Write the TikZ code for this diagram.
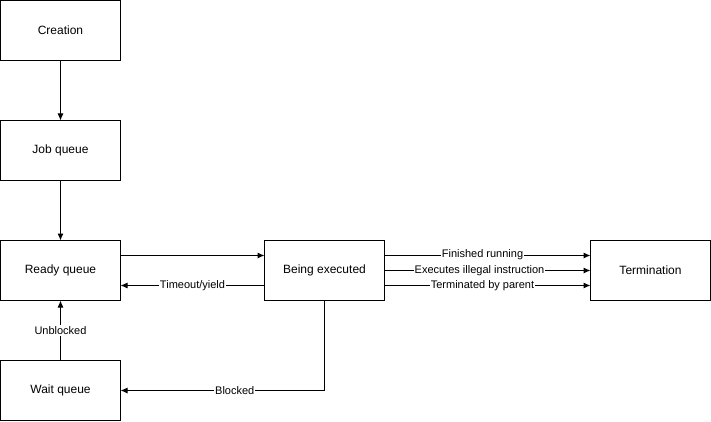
\documentclass[tikz,border=0pt]{standalone}
\usepackage{fontspec}
\setmainfont{Liberation Sans}
\usetikzlibrary{arrows.meta}
\usetikzlibrary{positioning}

\tikzset{
    state/.style={draw, line width=1pt, minimum width=120pt, minimum height=60pt,
        inner sep=0pt, outer sep=0pt, font=\fontsize{12}{14}\selectfont},
    trans/.style={-{Latex[length=7pt,width=6pt]}, line width=1pt},
    lbl/.style={fill=white, inner sep=1pt, font=\fontsize{11}{13}\selectfont}
}

\begin{document}
\begin{tikzpicture}[node distance=60pt]
        \useasboundingbox (0,0) rectangle (711pt,-422pt);
        \node[state] (creation) at (60.5pt,-30.5pt) {Creation};
        \node[state, below=of creation] (job) {Job queue};
        \node[state, below=of job] (ready) {Ready queue};
        \node[state, below=of ready] (wait) {Wait queue};
        \node[state, right=144pt of ready] (exec) {Being executed};
        \node[state, right=206pt of exec] (term) {Termination};
        % queue flow
        \draw[trans] (creation) -- (job);
        \draw[trans] (job) -- (ready);
        \draw[trans] ([yshift=15pt]ready.east) -- ([yshift=15pt]exec.west);
        \draw[trans] ([yshift=-15pt]exec.west) -- node[lbl] {Timeout/yield} ([yshift=-15pt]ready.east);
        
        \draw[trans] ([yshift=15pt]exec.east) -- node[lbl, yshift=1pt, xshift=-5pt] {Finished running} ([yshift=15pt]term.west);
        \draw[trans] (exec.east) -- node[lbl, xshift=-8pt] {Executes illegal instruction} (term.west);
        \draw[trans] ([yshift=-15pt]exec.east) -- node[lbl, xshift=-5pt] {Terminated by parent} ([yshift=-15pt]term.west);
        
        \draw[trans] (exec.south) |- node[lbl, pos=0.72] {Blocked} (wait.east);
        \draw[trans] (wait) -- node[lbl] {Unblocked} (ready);
    \end{tikzpicture}
\end{document}
